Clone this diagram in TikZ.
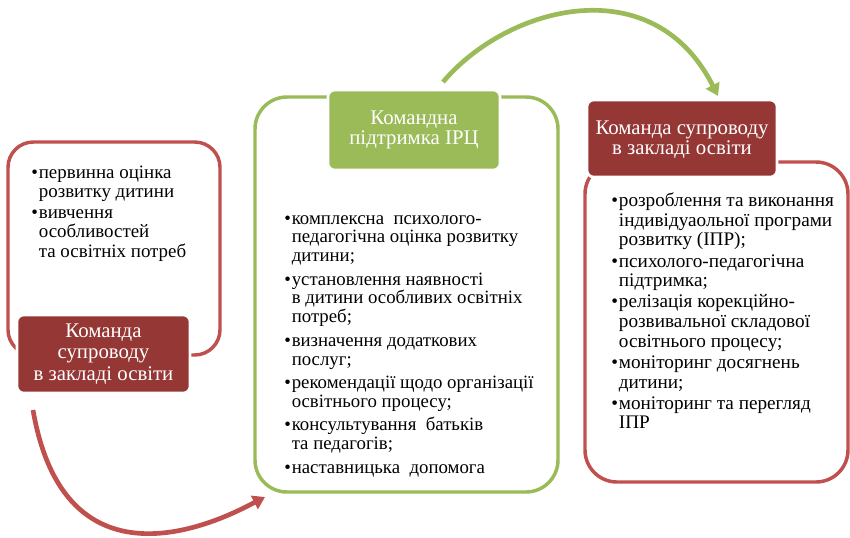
\documentclass[tikz,border=0pt]{standalone}
\usepackage{fontspec}
\setmainfont{Liberation Serif}
\usetikzlibrary{arrows.meta}
\definecolor{grn}{HTML}{9BBB59}
\definecolor{rdl}{HTML}{C0504D}
\definecolor{drd}{HTML}{953735}
\newcommand\bl{\makebox[0.4em][l]{•}}
\newcommand\ind{\hspace*{0.4em}}
\newcommand\tp{\rule{0pt}{1em}}
\begin{document}
\begin{tikzpicture}[x=0.75pt,y=-0.75pt,
  frame/.style={line width=2.6pt,rounded corners=24pt},
  label/.style={draw=white,line width=2pt,rounded corners=5pt},
  ltext/.style={inner sep=0pt,align=center,text=white,font=\fontsize{15.6}{16}\selectfont},
  btext/.style={inner sep=0pt,align=left,anchor=north west},
  arr/.style={line width=3.5pt,-{Triangle[length=9pt,width=11pt]}}]
\useasboundingbox[fill=white] (0,0) rectangle (850,537);
% left
\draw[frame,rdl,rounded corners=19pt] (8,142) rectangle (220,355);
\node[btext,font=\fontsize{14.2}{14.4}\selectfont] (lt) at (31,159) {\tp\bl первинна оцінка\\ \ind розвитку дитини\\[1.5pt]
\bl вивчення\\ \ind особливостей\\ \ind та освітніх потреб};
\draw[label,fill=drd] (17,315) rectangle (190,393);
\node[ltext] (ll) at (103.5,354) {Команда\\супроводу\\в закладі освіти};
% middle
\draw[frame,grn] (255,97) rectangle (558,492);
\draw[label,fill=grn] (328,90) rectangle (500,170);
\node[ltext,font=\fontsize{15.6}{15}\selectfont] (ml) at (414,130) {Командна\\підтримка ІРЦ};
\node[btext,font=\fontsize{14.1}{14.1}\selectfont] (mt) at (284,205) {\tp\bl комплексна\ \ психолого-\\ \ind педагогічна оцінка розвитку\\ \ind дитини;\\[3.5pt]
\bl установлення наявності\\ \ind в дитини особливих освітніх\\ \ind потреб;\\[3.5pt]
\bl визначення додаткових\\ \ind послуг;\\[3.5pt]
\bl рекомендації щодо організації\\ \ind освітнього процесу;\\[3.5pt]
\bl консультування\ \ батьків\\ \ind та педагогів;\\[3.5pt]
\bl наставницька\ \ допомога};
% right
\draw[frame,rdl] (585,162) rectangle (848,482);
\draw[label,fill=drd] (587,100) rectangle (777,177);
\node[ltext,font=\fontsize{15.6}{15}\selectfont] (rl) at (682,140) {Команда супроводу\\в закладі освіти};
\node[btext,font=\fontsize{14.4}{14.8}\selectfont] (rt) at (611,187) {\tp\bl розроблення та виконання\\ \ind індивідуаольної програми\\ \ind розвитку (ІПР);\\[1pt]
\bl психолого-педагогічна\\ \ind підтримка;\\[1pt]
\bl релізація корекційно-\\ \ind розвивальної складової\\ \ind освітнього процесу;\\[1pt]
\bl моніторинг досягнень\\ \ind дитини;\\[1pt]
\bl моніторинг та перегляд\\ \ind ІПР};
% arrows
\coordinate (g0) at (443,82);
\coordinate (g1) at (718,96);
\coordinate (r0) at (33,410);
\coordinate (r1) at (265,497);
\draw[arr,grn] (g0) .. controls (507,6) and (653,-33) .. (g1);
\draw[arr,rdl] (r0) .. controls (67,606) and (234,513) .. (r1);
\end{tikzpicture}
\end{document}
